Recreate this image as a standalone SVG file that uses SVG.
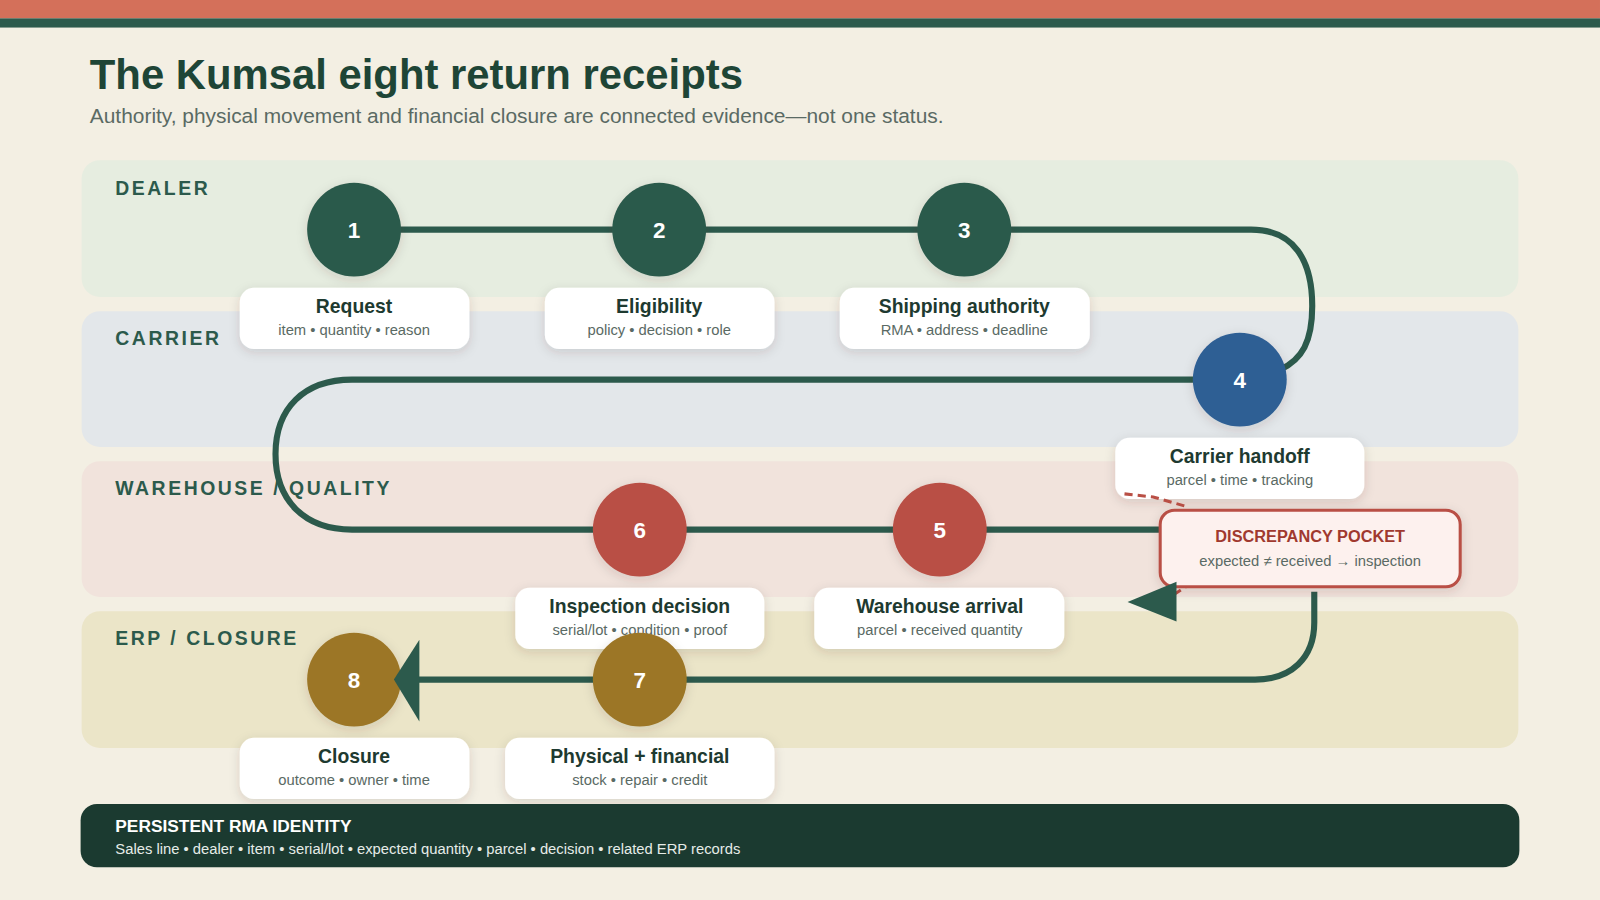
<svg xmlns="http://www.w3.org/2000/svg" width="1600" height="900" viewBox="0 0 1600 900">
<defs>
<filter id="sh" x="-20%" y="-30%" width="140%" height="170%"><feDropShadow dx="0" dy="3" stdDeviation="5" flood-color="#3a3020" flood-opacity="0.15"/></filter>
<style>
text{font-family:"Liberation Sans",Arial,sans-serif}
.lane-l{font-size:19px;font-weight:bold;fill:#2c5a4c;letter-spacing:2.5px}
.card{fill:#fff;filter:url(#sh)}
.ct{font-size:19px;font-weight:bold;fill:#1e3a30;text-anchor:middle}
.cs{font-size:14.5px;fill:#5a6a64;text-anchor:middle}
.num{font-size:22px;font-weight:bold;fill:#fff;text-anchor:middle}
.flow{fill:none;stroke:#2c5a4c;stroke-width:6}
</style>
</defs>
<g transform="scale(1.0204)">
<rect x="0" y="0" width="1568" height="882" fill="#f3efe3"/>
<rect x="0" y="0" width="1568" height="18" fill="#d4705a"/>
<rect x="0" y="18" width="1568" height="9" fill="#2c5a4c"/>
<text x="88" y="87" font-size="41" font-weight="bold" fill="#1e4536">The Kumsal eight return receipts</text>
<text x="88" y="121" font-size="20.5" fill="#5a6a64">Authority, physical movement and financial closure are connected evidence—not one status.</text>

<g id="lanes">
<rect x="80" y="157" width="1408" height="134" rx="18" fill="#e6ede0"/>
<rect x="80" y="305" width="1408" height="133" rx="18" fill="#e3e7ea"/>
<rect x="80" y="452" width="1408" height="133" rx="18" fill="#f1e3dc"/>
<rect x="80" y="599" width="1408" height="134" rx="18" fill="#ebe5c8"/>
<text class="lane-l" x="113" y="191">DEALER</text>
<text class="lane-l" x="113" y="338">CARRIER</text>
<text class="lane-l" x="113" y="485">WAREHOUSE / QUALITY</text>
<text class="lane-l" x="113" y="632">ERP / CLOSURE</text>
</g>

<g id="connectors">
<path class="flow" d="M347 225 H1226 C1268 225 1286 255 1286 300 C1286 335 1276 352 1255 362"/>
<path class="flow" d="M1215 372 H345 C298 372 270 400 270 445 C270 490 298 519 345 519 H1240"/>
<path class="flow" d="M1288 580 V610 C1288 645 1265 666 1230 666 H405"/>
</g>

<g id="card-1"><rect class="card" x="235" y="282" width="225" height="60" rx="14"/><text class="ct" x="347" y="307">Request</text><text class="cs" x="347" y="328">item • quantity • reason</text></g>
<g id="card-2"><rect class="card" x="534" y="282" width="225" height="60" rx="14"/><text class="ct" x="646" y="307">Eligibility</text><text class="cs" x="646" y="328">policy • decision • role</text></g>
<g id="card-3"><rect class="card" x="823" y="282" width="245" height="60" rx="14"/><text class="ct" x="945" y="307">Shipping authority</text><text class="cs" x="945" y="328">RMA • address • deadline</text></g>
<g id="card-4"><rect class="card" x="1093" y="429" width="244" height="60" rx="14"/><text class="ct" x="1215" y="454">Carrier handoff</text><text class="cs" x="1215" y="475">parcel • time • tracking</text></g>
<g id="card-6"><rect class="card" x="505" y="576" width="244" height="60" rx="14"/><text class="ct" x="627" y="601">Inspection decision</text><text class="cs" x="627" y="622">serial/lot • condition • proof</text></g>
<g id="card-5"><rect class="card" x="798" y="576" width="245" height="60" rx="14"/><text class="ct" x="921" y="601">Warehouse arrival</text><text class="cs" x="921" y="622">parcel • received quantity</text></g>
<g id="card-8"><rect class="card" x="235" y="723" width="225" height="60" rx="14"/><text class="ct" x="347" y="748">Closure</text><text class="cs" x="347" y="769">outcome • owner • time</text></g>
<g id="card-7"><rect class="card" x="495" y="723" width="264" height="60" rx="14"/><text class="ct" x="627" y="748">Physical + financial</text><text class="cs" x="627" y="769">stock • repair • credit</text></g>

<g id="pocket-links">
<path d="M1102 484 L1130 487 L1165 497" fill="none" stroke="#b94f45" stroke-width="3" stroke-dasharray="8 5"/>
<path d="M1168 571 L1150 583" fill="none" stroke="#b94f45" stroke-width="3" stroke-dasharray="8 5"/>
</g>

<g id="pocket">
<rect x="1137" y="500" width="294" height="75" rx="14" fill="#fdf1ee" stroke="#b94f45" stroke-width="3" filter="url(#sh)"/>
<text x="1284" y="531" font-size="16" font-weight="bold" fill="#a0392f" text-anchor="middle">DISCREPANCY POCKET</text>
<text x="1284" y="555" class="cs">expected ≠ received → inspection</text>
</g>

<g id="node-1"><circle cx="347" cy="225" r="46" fill="#2c5a4c" filter="url(#sh)"/><text class="num" x="347" y="233">1</text></g>
<g id="node-2"><circle cx="646" cy="225" r="46" fill="#2c5a4c" filter="url(#sh)"/><text class="num" x="646" y="233">2</text></g>
<g id="node-3"><circle cx="945" cy="225" r="46" fill="#2c5a4c" filter="url(#sh)"/><text class="num" x="945" y="233">3</text></g>
<g id="node-4"><circle cx="1215" cy="372" r="46" fill="#2e5f94" filter="url(#sh)"/><text class="num" x="1215" y="380">4</text></g>
<g id="node-5"><circle cx="921" cy="519" r="46" fill="#b94f45" filter="url(#sh)"/><text class="num" x="921" y="527">5</text></g>
<g id="node-6"><circle cx="627" cy="519" r="46" fill="#b94f45" filter="url(#sh)"/><text class="num" x="627" y="527">6</text></g>
<g id="node-7"><circle cx="627" cy="666" r="46" fill="#9c7627" filter="url(#sh)"/><text class="num" x="627" y="674">7</text></g>
<g id="node-8"><circle cx="347" cy="666" r="46" fill="#9c7627" filter="url(#sh)"/><text class="num" x="347" y="674">8</text></g>

<g id="arrowheads">
<polygon points="386,666 411,627 411,707" fill="#2c5a4c"/>
<polygon points="1105,590 1153,570 1153,609" fill="#2c5a4c"/>
</g>

<g id="footer">
<rect x="79" y="788" width="1410" height="62" rx="16" fill="#1b3a30"/>
<text x="113" y="815" font-size="17" font-weight="bold" fill="#fff">PERSISTENT RMA IDENTITY</text>
<text x="113" y="837" font-size="14.5" fill="#e6ece8">Sales line • dealer • item • serial/lot • expected quantity • parcel • decision • related ERP records</text>
</g>
</g>
</svg>
